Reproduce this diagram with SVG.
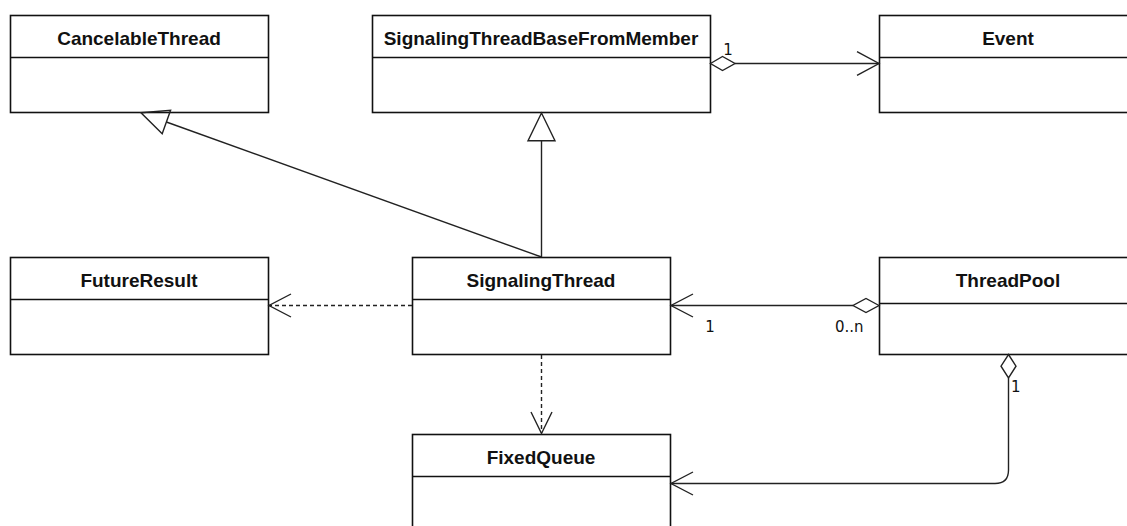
<svg xmlns="http://www.w3.org/2000/svg" width="1127" height="526" viewBox="0 0 1127 526">
<style>
.box{fill:#fff;stroke:#111;stroke-width:1.6}
.div{stroke:#111;stroke-width:1.6}
.title{font-family:"Liberation Sans",Arial,sans-serif;font-weight:bold;font-size:19px;fill:#111;text-anchor:middle}
.lbl{font-family:"DejaVu Sans",sans-serif;font-size:15px;fill:#111}
.ln{fill:none;stroke:#222;stroke-width:1.4}
.dash{fill:none;stroke:#222;stroke-width:1.4;stroke-dasharray:4 3}
.head{fill:none;stroke:#222;stroke-width:1.4;stroke-linejoin:miter}
.dia{fill:#fff;stroke:#222;stroke-width:1.4}
</style>
<rect width="1127" height="526" fill="#fff"/>
<g id="CancelableThread">
<rect class="box" x="10.5" y="15.5" width="258" height="97"/>
<line class="div" x1="10.5" y1="57.5" x2="268.5" y2="57.5"/>
<text class="title" x="139" y="45">CancelableThread</text>
</g>
<g id="SignalingThreadBaseFromMember">
<rect class="box" x="372.5" y="15.5" width="338" height="97"/>
<line class="div" x1="372.5" y1="57.5" x2="710.5" y2="57.5"/>
<text class="title" x="541" y="45">SignalingThreadBaseFromMember</text>
</g>
<g id="Event">
<rect class="box" x="879.5" y="15.5" width="258" height="97"/>
<line class="div" x1="879.5" y1="57.5" x2="1137.5" y2="57.5"/>
<text class="title" x="1008" y="45">Event</text>
</g>
<g id="FutureResult">
<rect class="box" x="10.5" y="257.5" width="258" height="97"/>
<line class="div" x1="10.5" y1="299.5" x2="268.5" y2="299.5"/>
<text class="title" x="139" y="287">FutureResult</text>
</g>
<g id="SignalingThread">
<rect class="box" x="412.5" y="257.5" width="258" height="97"/>
<line class="div" x1="412.5" y1="299.5" x2="670.5" y2="299.5"/>
<text class="title" x="541" y="287">SignalingThread</text>
</g>
<g id="ThreadPool">
<rect class="box" x="879.5" y="257.5" width="258" height="97"/>
<line class="div" x1="879.5" y1="303.5" x2="1137.5" y2="303.5"/>
<text class="title" x="1008" y="287">ThreadPool</text>
</g>
<g id="FixedQueue">
<rect class="box" x="412.5" y="434.5" width="258" height="98"/>
<line class="div" x1="412.5" y1="476.5" x2="670.5" y2="476.5"/>
<text class="title" x="541" y="464">FixedQueue</text>
</g>
<g id="connectors">
<line class="ln" x1="541.5" y1="257" x2="166.4" y2="122"/>
<polygon class="head" points="141,112.8 170.6,110.2 162.2,133.7"/>
<line class="ln" x1="541.5" y1="257" x2="541.5" y2="140.7"/>
<polygon class="head" points="541.5,113 528,140.7 555,140.7"/>
<line class="ln" x1="735" y1="63.5" x2="879" y2="63.5"/>
<polygon class="dia" points="710.5,63.5 722.5,56.5 735,63.5 722.5,70.5"/>
<polyline class="head" points="857,51.7 879,63.5 857,75.3"/>
<line class="dash" x1="412" y1="305.5" x2="269" y2="305.5"/>
<polyline class="head" points="291,294 269,305.5 291,317"/>
<line class="ln" x1="853" y1="305.5" x2="671" y2="305.5"/>
<polygon class="dia" points="879,305.5 866,298.5 853,305.5 866,312.5"/>
<polyline class="head" points="693,294 671,305.5 693,317"/>
<line class="dash" x1="541.5" y1="355" x2="541.5" y2="433"/>
<polyline class="head" points="531,412 541.5,433.5 552,412"/>
<path class="ln" d="M1008.5,378 V470 Q1008.5,483.5 995,483.5 H671"/>
<polygon class="dia" points="1008.5,354.5 1016,366.2 1008.5,378 1001,366.2"/>
<polyline class="head" points="693,472 671,483.5 693,495"/>
</g>
<g id="labels">
<text class="lbl" x="728" y="55" text-anchor="middle">1</text>
<text class="lbl" x="710" y="332" text-anchor="middle">1</text>
<text class="lbl" x="835" y="332">0..n</text>
<text class="lbl" x="1011" y="392">1</text>
</g>
</svg>
